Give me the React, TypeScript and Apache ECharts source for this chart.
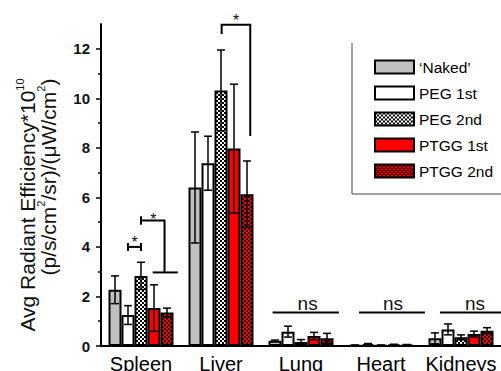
import React, { useEffect, useRef } from 'react';
import * as echarts from 'echarts';

const categories = ['Spleen', 'Liver', 'Lung', 'Heart', 'Kidneys'];
const seriesNames = ['‘Naked’', 'PEG 1st', 'PEG 2nd', 'PTGG 1st', 'PTGG 2nd'];

const nakedVals = [2.27, 6.4, 0.21, 0.03, 0.31];
const nakedErr = [0.56, 2.24, 0.03, 0.01, 0.22];
const peg1Vals = [1.25, 7.38, 0.58, 0.08, 0.67];
const peg1Err = [0.38, 1.09, 0.22, 0.02, 0.22];
const peg2Vals = [2.83, 10.32, 0.16, 0.03, 0.35];
const peg2Err = [0.55, 1.63, 0.1, 0.01, 0.1];
const ptgg1Vals = [1.53, 7.97, 0.4, 0.06, 0.48];
const ptgg1Err = [0.94, 2.6, 0.15, 0.01, 0.12];
const ptgg2Vals = [1.35, 6.13, 0.31, 0.05, 0.62];
const ptgg2Err = [0.18, 1.34, 0.2, 0.01, 0.12];

const yMajorTicks = [0, 2, 4, 6, 8, 10, 12];
const yMinorTicks = [1, 3, 5, 7, 9, 11];

// significance annotations: category, polylines in [bar slot, value], label, label anchor
const bracketCats = [0, 0, 1, 2, 3, 4];
const bracketLines: number[][][][] = [
  [[[-1, 4.0], [0, 4.0]], [[-1, 3.84], [-1, 4.16]], [[0, 3.84], [0, 4.16]]],
  [[[0, 4.9], [0, 5.24]], [[0, 5.07], [1.81, 5.07], [1.81, 2.97]], [[0.9, 2.97], [2.83, 2.97]]],
  [[[0.05, 12.6], [0.05, 12.97], [2.25, 12.97], [2.25, 8.48]]],
  [[[-2.18, 1.35], [2.92, 1.35]]],
  [[[-1.69, 1.35], [3.38, 1.35]]],
  [[[-1.62, 1.35], [3.6, 1.35]]],
];
const bracketLabels = ['*', '*', '*', 'ns', 'ns', 'ns'];
const bracketLabelAt = [
  [-0.5, 4.18],
  [0.96, 5.12],
  [1.17, 13.16],
  [0.51, 1.7],
  [0.92, 1.7],
  [1.08, 1.7],
];

const CAT_GAP = 0.1875;
const FONT = '"Liberation Sans", Arial, Helvetica, sans-serif';

function checker(bg: string, fg: string) {
  const c = document.createElement('canvas');
  c.width = 4;
  c.height = 4;
  const ctx = c.getContext('2d')!;
  ctx.fillStyle = bg;
  ctx.fillRect(0, 0, 4, 4);
  ctx.fillStyle = fg;
  ctx.fillRect(0, 0, 2, 2);
  ctx.fillRect(2, 2, 2, 2);
  return { image: c.toDataURL(), repeat: 'repeat', imageWidth: 4, imageHeight: 4 } as any;
}

export default function App() {
  const ref = useRef<HTMLDivElement>(null);
  useEffect(() => {
    if (!ref.current) return;
    const chart = echarts.init(ref.current, null, { renderer: 'svg' });
    const vals = [nakedVals, peg1Vals, peg2Vals, ptgg1Vals, ptgg2Vals];
    const errs = [nakedErr, peg1Err, peg2Err, ptgg1Err, ptgg2Err];
    const colors: any[] = ['#c0c0c0', '#ffffff', checker('#ffffff', '#000000'), '#ff0000', checker('#ff0000', '#200000')];

    const barSeries = vals.map((v, s) => ({
      type: 'bar',
      name: seriesNames[s],
      data: v,
      barGap: '0%',
      barCategoryGap: CAT_GAP * 100 + '%',
      itemStyle: { color: colors[s], borderColor: '#000', borderWidth: 2 },
      z: 2,
    }));

    const lineStyle = { stroke: '#000', lineWidth: 1.5 };
    const errSeries = vals.map((v, s) => ({
      type: 'custom',
      name: 'err' + s,
      z: 5,
      silent: true,
      encode: { x: 0, y: 1 },
      data: v.map((val, i) => [i, val, errs[s][i]]),
      renderItem: (params: any, api: any) => {
        const i = api.value(0);
        const val = api.value(1);
        const e = api.value(2);
        const c = api.coord([i, val]);
        const band = api.size([1, 0])[0];
        const bw = (band * (1 - CAT_GAP)) / 5;
        const x = c[0] + (s - 2) * bw;
        const yt = api.coord([i, val + e])[1];
        const yb = api.coord([i, Math.max(0, val - e)])[1];
        const cap = 4;
        return {
          type: 'group',
          children: [
            { type: 'line', shape: { x1: x, y1: yt, x2: x, y2: yb }, style: lineStyle },
            { type: 'line', shape: { x1: x - cap, y1: yt, x2: x + cap, y2: yt }, style: lineStyle },
            { type: 'line', shape: { x1: x - cap, y1: yb, x2: x + cap, y2: yb }, style: lineStyle },
          ],
        };
      },
    }));

    const bracketSeries = {
      type: 'custom',
      name: 'sig',
      z: 6,
      silent: true,
      encode: { x: 0, y: 1 },
      data: bracketCats.map((c, k) => [c, bracketLabelAt[k][1]]),
      renderItem: (params: any, api: any) => {
        const k = params.dataIndex;
        const cat = api.value(0);
        const band = api.size([1, 0])[0];
        const bw = (band * (1 - CAT_GAP)) / 5;
        const cx = api.coord([cat, 0])[0];
        const toPt = (p: number[]) => [cx + p[0] * bw, api.coord([cat, p[1]])[1]];
        const children: any[] = bracketLines[k].map((pl) => ({
          type: 'polyline',
          shape: { points: pl.map(toPt) },
          style: { stroke: '#000', lineWidth: 2, fill: 'none' },
        }));
        const lp = toPt(bracketLabelAt[k]);
        children.push({
          type: 'text',
          x: lp[0],
          y: lp[1],
          style: {
            text: bracketLabels[k],
            fill: '#111',
            fontSize: bracketLabels[k] === 'ns' ? 19 : 16,
            fontFamily: FONT,
            align: 'center',
            verticalAlign: 'middle',
          },
        });
        return { type: 'group', children };
      },
    };

    const option: any = {
      animation: false,
      backgroundColor: '#fff',
      grid: { left: 101, top: 24, right: 0, bottom: 25, containLabel: false, outerBoundsMode: 'none' },
      legend: {
        data: seriesNames,
        orient: 'vertical',
        left: 369,
        top: 54,
        itemWidth: 39,
        itemHeight: 13,
        itemGap: 10,
        icon: 'rect',
        textStyle: { fontSize: 15.5, fontFamily: FONT, color: '#000', lineHeight: 15 },
        selectedMode: false,
      },
      xAxis: {
        type: 'category',
        data: categories,
        axisLine: { lineStyle: { color: '#000', width: 2 } },
        axisTick: { alignWithLabel: true, length: 6, lineStyle: { color: '#000', width: 1.5 } },
        axisLabel: { interval: 0, fontSize: 20, fontFamily: FONT, color: '#000', margin: 8 },
      },
      yAxis: [
        {
          type: 'value',
          min: 0,
          max: 13,
          interval: 2,
          splitLine: { show: false },
          axisLine: { show: true, lineStyle: { color: '#000', width: 2 } },
          axisTick: { show: true, length: 5, customValues: yMajorTicks, lineStyle: { color: '#000', width: 1.5 } },
          axisLabel: { customValues: yMajorTicks, fontSize: 15, fontWeight: 'bold', fontFamily: FONT, color: '#111', margin: 11 },
        },
        {
          type: 'value',
          min: 0,
          max: 13,
          position: 'left',
          splitLine: { show: false },
          axisLine: { show: false },
          axisTick: { show: true, length: 3, customValues: yMinorTicks, lineStyle: { color: '#000', width: 1.5 } },
          axisLabel: { show: false },
        },
      ],
      graphic: [
        {
          type: 'text',
          x: 27,
          y: 205,
          rotation: Math.PI / 2,
          style: {
            text: 'Avg Radiant Efficiency*10{sup|10}',
            fontSize: 21,
            fontFamily: FONT,
            fill: '#111',
            align: 'center',
            verticalAlign: 'middle',
            lineHeight: 26,
            rich: { sup: { fontSize: 11, fontFamily: FONT, fill: '#111', verticalAlign: 'top', lineHeight: 12 } },
          },
        },
        {
          type: 'text',
          x: 48,
          y: 177,
          rotation: Math.PI / 2,
          style: {
            text: '(p/s/cm{sup|2}/sr)/(μW/cm{sup|2})',
            fontSize: 21,
            fontFamily: FONT,
            fill: '#111',
            align: 'center',
            verticalAlign: 'middle',
            lineHeight: 26,
            rich: { sup: { fontSize: 11, fontFamily: FONT, fill: '#111', verticalAlign: 'top', lineHeight: 12 } },
          },
        },
        {
          type: 'polyline',
          shape: { points: [[352, 43], [352, 194], [501, 194]] },
          style: { stroke: '#444', lineWidth: 1, fill: 'none' },
        },
      ],
      series: [...barSeries, ...errSeries, bracketSeries],
    };
    chart.setOption(option);
    return () => chart.dispose();
  }, []);
  return <div ref={ref} style={{ position: 'absolute', left: 0, top: 0, width: 501, height: 371 }} />;
}
